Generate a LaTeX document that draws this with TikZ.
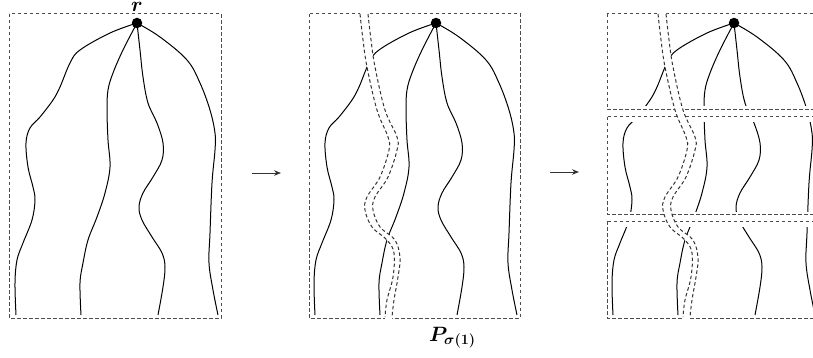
\documentclass[tikz,border=0pt]{standalone}
\usepackage{bm}
\usetikzlibrary{arrows.meta}
\tikzset{
  curve/.style={black, line width=1pt, smooth, tension=0.6},
  box/.style={draw=black!70, line width=1pt, dash pattern=on 3.5pt off 2.5pt},
  corr/.style={draw=black!80, line width=1pt, dash pattern=on 3.5pt off 2.5pt},
  rootdot/.style={circle, fill=black, inner sep=0pt, minimum size=10.5pt},
  arr/.style={-{Stealth[length=7pt,width=5.5pt]}, line width=0.9pt, black!80},
  lbl/.style={inner sep=0pt, font=\fontsize{22}{26}\selectfont}
}
\newcommand{\curvesA}{
  \draw[curve] plot coordinates {(0,23) (-27,33) (-57,50) (-67,63) (-77,87) (-84,100) (-97,117) (-107,128) (-111,143) (-109,167) (-104,187) (-102,200) (-105,220) (-114,243) (-120,260) (-122,283) (-121,315)};
  \draw[curve] plot coordinates {(0,23) (-14,50) (-24,73) (-29,90) (-30,110) (-29,140) (-27,167) (-32,193) (-40,217) (-49,240) (-54,263) (-57,283) (-56,315)};
  \draw[curve] plot coordinates {(0,23) (3,50) (6,77) (11,103) (20,123) (26,143) (25,160) (16,177) (6,193) (2,207) (5,220) (15,237) (25,253) (28,267) (26,287) (21,315)};
  \draw[curve] plot coordinates {(0,23) (23,37) (50,60) (63,83) (73,110) (78,133) (78,150) (75,183) (73,233) (72,263) (76,290) (81,315)};
}
\newcommand{\corridorfill}{
  \fill[white] (-76,9) -- plot[smooth, tension=0.6] coordinates {(-76,14) (-73,40) (-69,67) (-59,110) (-48,137) (-47,150) (-56,177) (-69,197) (-71,210) (-64,227) (-49,240) (-42,253) (-43,277) (-49,300) (-51,317)} -- (-51,323) -- (-44,323) -- plot[smooth, tension=0.6] coordinates {(-44,317) (-42,300) (-38,277) (-36,258) (-41,240) (-56,227) (-63,210) (-61,197) (-48,177) (-39,150) (-39,137) (-51,110) (-61,67) (-65,40) (-68,14)} -- (-68,9) -- cycle;
  \draw[corr] plot[smooth, tension=0.6] coordinates {(-76,14) (-73,40) (-69,67) (-59,110) (-48,137) (-47,150) (-56,177) (-69,197) (-71,210) (-64,227) (-49,240) (-42,253) (-43,277) (-49,300) (-51,317)};
  \draw[corr] plot[smooth, tension=0.6] coordinates {(-68,14) (-65,40) (-61,67) (-51,110) (-39,137) (-39,150) (-48,177) (-61,197) (-63,210) (-56,227) (-41,240) (-36,258) (-38,277) (-42,300) (-44,317)};
}
\begin{document}
\begin{tikzpicture}[x=1pt, y=-1pt]
\useasboundingbox (0,0) rectangle (813,358);
\clip (0,0) rectangle (813,358);
% Panel 1
\begin{scope}[shift={(137,0)}]
  \curvesA
  \draw[box] (-128,14) rectangle (84,318);
  \node[rootdot] (r1) at (0,23) {};
\end{scope}
\node[lbl, anchor=base] (rlab) at (137,11.5) {$\bm{r}$};
% Panel 2
\begin{scope}[shift={(436,0)}]
  \curvesA
  \draw[box] (-127,14) rectangle (84,318);
  \corridorfill
  \node[rootdot] (r2) at (0,23) {};
\end{scope}
\node[lbl, anchor=base west] (plab) at (429,341) {$\bm{P_{\sigma(1)}}$};
% Panel 3
\begin{scope}[shift={(734,0)}]
  \begin{scope}
    \clip (-140,10) rectangle (100,106);
    \curvesA
  \end{scope}
  \begin{scope}
    \clip (-140,123) rectangle (100,211);
    \curvesA
  \end{scope}
  \begin{scope}
    \clip (-140,227) rectangle (100,320);
    \curvesA
  \end{scope}
  \draw[box] (-127,14) rectangle (84,110);
  \draw[box] (-127,117) rectangle (84,214);
  \draw[box] (-127,221) rectangle (84,318);
  \corridorfill
  \node[rootdot] (r3) at (0,23) {};
\end{scope}
% Arrows
\coordinate (a1s) at (252,173);
\coordinate (a1e) at (281,173);
\coordinate (a2s) at (550,172);
\coordinate (a2e) at (579,172);
\draw[arr] (a1s) -- (a1e);
\draw[arr] (a2s) -- (a2e);
\end{tikzpicture}
\end{document}
